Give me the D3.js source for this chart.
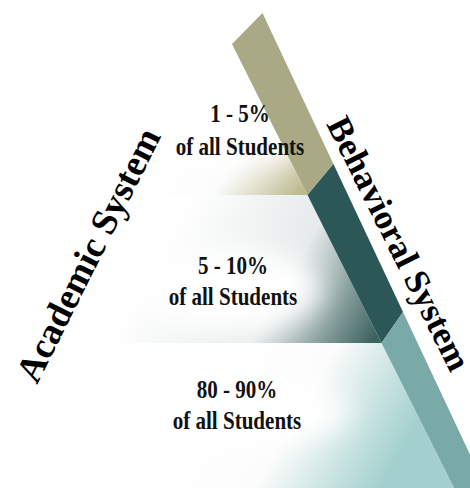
<!DOCTYPE html>
<html>
<head>
<meta charset="utf-8">
<script src="https://cdn.jsdelivr.net/npm/d3@7"></script>
<style>
  html, body { margin: 0; padding: 0; background: #fff; }
  svg { display: block; }
</style>
</head>
<body>
<div id="chart"></div>
<script>
// tiers, top to bottom
const tierLabels = ['1 - 5%', '5 - 10%', '80 - 90%'];
const tierSub = ['of all Students', 'of all Students', 'of all Students'];
const bandColors = ['#aaa986', '#2b5856', '#7aaaa7'];
const tierTints = ['#bdb98e', '#3d6361', '#a3d0ce'];
const sideLabels = ['Academic System', 'Behavioral System'];

const w = 470;
const h = 488;

// tier boundary -> pixel row
const y = d3.scaleLinear().domain([0, 1, 2, 3]).range([44, 195, 343, 488]);
const apexX = 232;
const slope = 0.5;
const leftEdge = yy => apexX - slope * (yy - y(0));
const rightEdge = yy => apexX + slope * (yy - y(0));
// outer edge of the diagonal band
const bandOuter = yy => 262 + 0.47 * (yy - 12);
const bandTilt = 31;

const svg = d3.select('#chart')
  .append('svg')
  .attr('width', w)
  .attr('height', h);

const defs = svg.append('defs');

defs.append('filter')
  .attr('id', 'blur')
  .attr('x', '-50%').attr('y', '-50%')
  .attr('width', '200%').attr('height', '200%')
  .append('feGaussianBlur')
  .attr('stdDeviation', 14);

// gradient for each tier, fading to white toward the upper left
const gradPts = [
  [195, 120, 300, 195],
  [170, 230, 372, 342],
  [210, 390, 380, 488],
];
tierLabels.forEach((_, i) => {
  const g = defs.append('linearGradient')
    .attr('id', `tier${i}`)
    .attr('gradientUnits', 'userSpaceOnUse')
    .attr('x1', gradPts[i][0]).attr('y1', gradPts[i][1])
    .attr('x2', gradPts[i][2]).attr('y2', gradPts[i][3]);
  g.append('stop').attr('offset', 0).attr('stop-color', '#fff');
  g.append('stop').attr('offset', i === 1 ? 0.55 : 0.45).attr('stop-color', i === 1 ? '#e6eaea' : '#fbfcfb');
  g.append('stop').attr('offset', 1).attr('stop-color', tierTints[i]);
});

const pyramid = svg.append('g');

pyramid.selectAll('.tier')
  .data(tierLabels)
  .enter()
  .append('polygon')
  .attr('class', 'tier')
  .attr('points', (_, i) => {
    const y0 = y(i);
    const y1 = y(i + 1);
    return [[leftEdge(y0), y0], [rightEdge(y0), y0], [rightEdge(y1), y1], [leftEdge(y1), y1]]
      .map(p => p.join(',')).join(' ');
  })
  .style('fill', (_, i) => `url(#tier${i})`);

// soft white glow behind labels
const glow = [
  [240, 128, 75, 38],
  [233, 290, 88, 42],
  [237, 412, 112, 34],
];
pyramid.selectAll('.glow')
  .data(glow)
  .enter()
  .append('ellipse')
  .attr('class', 'glow')
  .attr('cx', d => d[0])
  .attr('cy', d => d[1])
  .attr('rx', d => d[2])
  .attr('ry', d => d[3])
  .style('fill', '#fff')
  .attr('filter', 'url(#blur)');

// diagonal band
svg.selectAll('.band')
  .data(bandColors)
  .enter()
  .append('polygon')
  .attr('class', 'band')
  .attr('points', (_, i) => {
    const y0 = y(i);
    const y1 = i === bandColors.length - 1 ? y(i + 1) + 40 : y(i + 1);
    return [[rightEdge(y0), y0], [bandOuter(y0 - bandTilt), y0 - bandTilt],
      [bandOuter(y1 - bandTilt), y1 - bandTilt], [rightEdge(y1), y1]]
      .map(p => p.join(',')).join(' ');
  })
  .style('fill', d => d);

// tier labels
const sx = 0.81;
const labels = svg.selectAll('.label')
  .data(tierLabels)
  .enter()
  .append('g')
  .attr('class', 'label')
  .attr('transform', (_, i) => `translate(${[240, 233, 237][i]},0) scale(${sx},1)`);

labels.append('text')
  .attr('y', (_, i) => [122, 274, 398][i])
  .text(d => d);
labels.append('text')
  .attr('y', (_, i) => [155, 305, 429][i])
  .text((_, i) => tierSub[i]);
labels.selectAll('text')
  .attr('text-anchor', 'middle')
  .style('font-family', '"Liberation Serif", "Times New Roman", serif')
  .style('font-weight', 'bold')
  .style('font-size', '26px')
  .style('fill', '#111');

// side labels
const angle = Math.atan(1 / slope) * 180 / Math.PI;
svg.selectAll('.side')
  .data(sideLabels)
  .enter()
  .append('text')
  .attr('class', 'side')
  .attr('transform', (_, i) => (i === 0
    ? `translate(37,385) rotate(${-angle})`
    : `translate(326,124) rotate(${angle})`))
  .style('font-family', '"Liberation Serif", "Times New Roman", serif')
  .style('font-weight', 'bold')
  .style('font-size', (_, i) => (i === 0 ? '37px' : '35px'))
  .style('fill', '#000')
  .text(d => d);
</script>
</body>
</html>
